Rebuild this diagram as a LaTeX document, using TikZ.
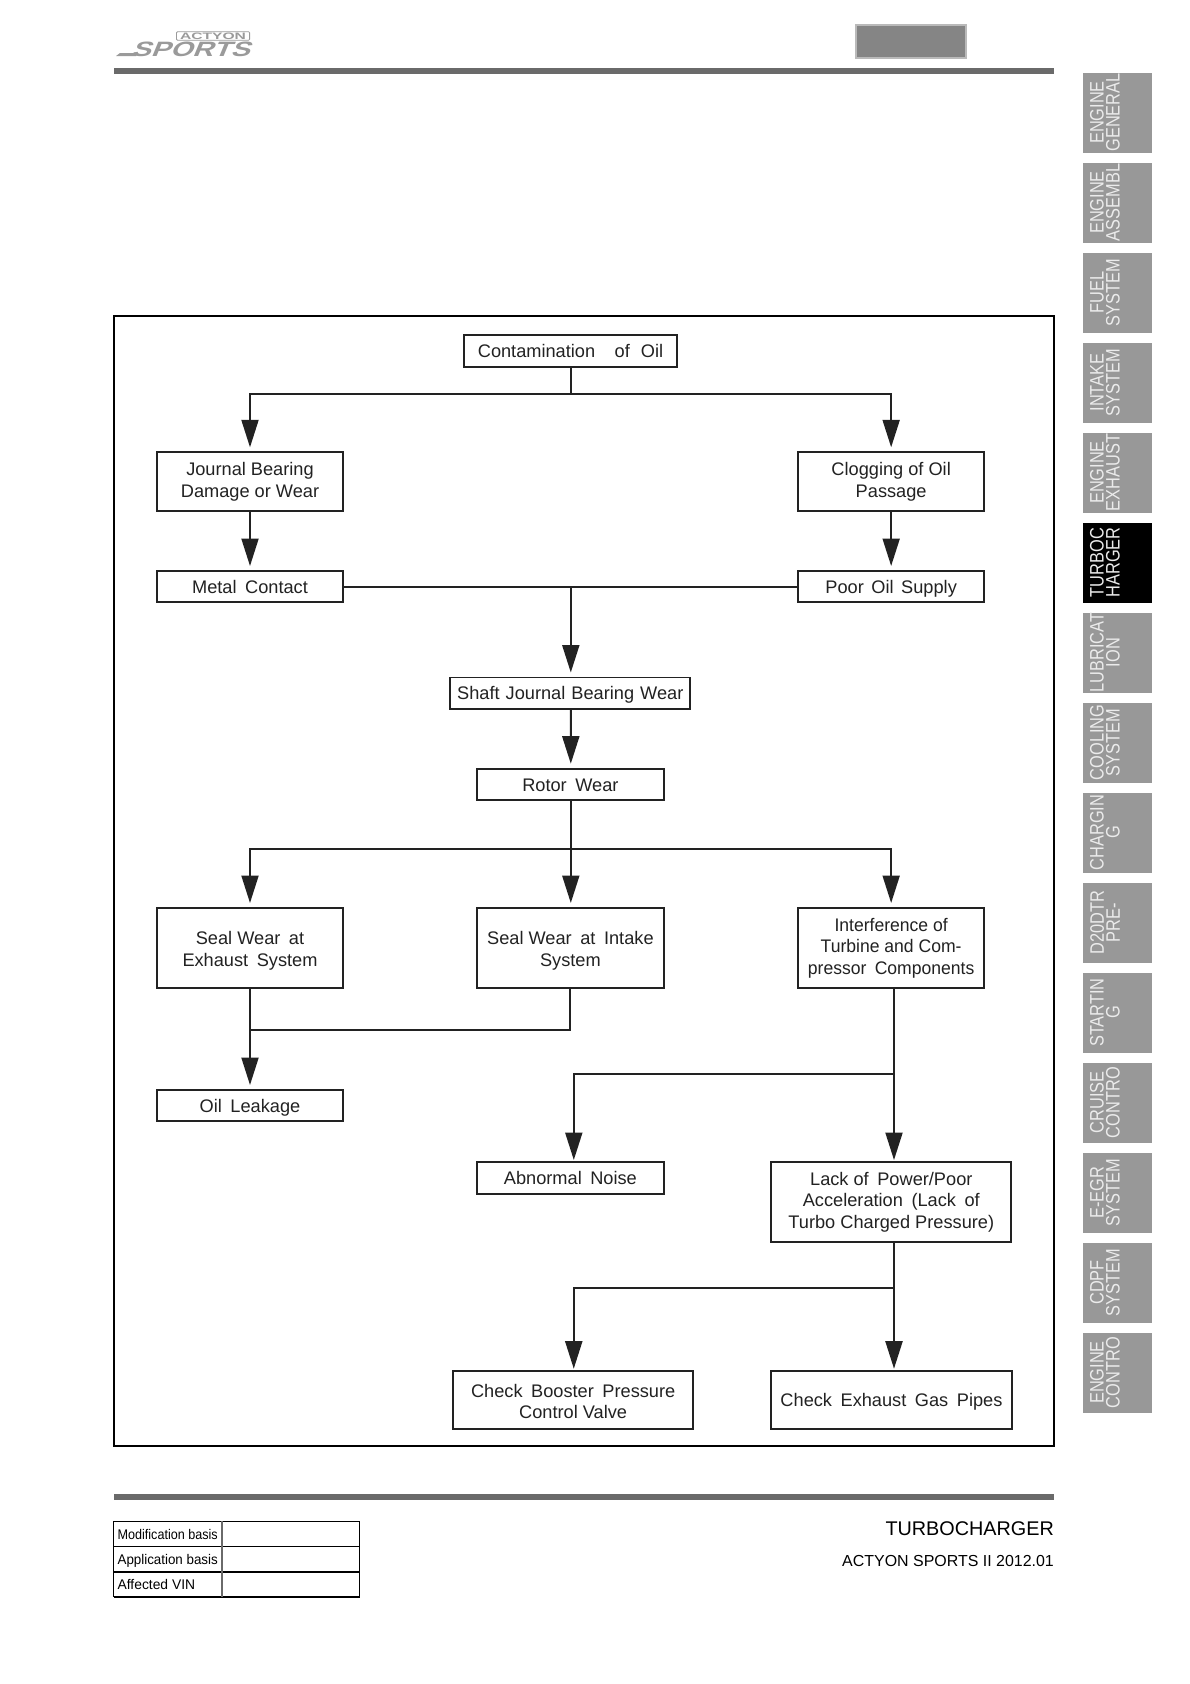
\documentclass[tikz,border=0pt]{standalone}
\usepackage{fontspec}
\setmainfont{Liberation Sans}
\newfontfamily\tabf[FakeStretch=0.84]{Liberation Sans}
\newfontfamily\cellf[FakeStretch=0.9]{Liberation Sans}
\newfontfamily\logof[FakeSlant=0.3]{Liberation Sans Bold}
\usetikzlibrary{arrows.meta}
\definecolor{ink}{HTML}{222222}
\definecolor{tabgrey}{HTML}{989898}
\definecolor{rulegrey}{HTML}{6A6A6A}
\definecolor{logogrey}{HTML}{9A9A9A}
\tikzset{
  bx/.style={draw=ink,line width=1.9pt,inner sep=0pt,outer sep=0pt,align=center,text=ink,
    font=\fontsize{18.2}{21.5}\selectfont},
  conn/.style={draw=ink,line width=2pt},
  arr/.style={draw=ink,line width=2pt,-{Triangle[width=17pt,length=27.5pt]},shorten >=5pt},
  arrb/.style={arr,shorten >=2pt},
  tabt/.style={rotate=90,inner sep=0pt,align=center,text=white!92!black,
    font=\tabf\fontsize{19.5}{16}\selectfont},
  celltext/.style={anchor=west,inner sep=0pt,text=black,font=\cellf\fontsize{14}{16}\selectfont},
}
\newcommand{\bxn}[6]{\node[bx,minimum width={#4-#2},minimum height={#5-#3}] (#1) at ({(#2+#4)/2},{(#3+#5)/2}) {#6};}
\newcommand{\one}[1]{\raisebox{0pt}[.716em][0pt]{#1}}
\newcommand{\sidetab}[4]{%
  \fill[#3] (1083,{73+90*#1}) rectangle (1152,{153+90*#1});
  \node[tabt] (tab#1) at (1105,{112.5+90*#1}) {#2\\#4};}
\newcommand{\gp}{\hspace{3.5pt}}
\newcommand{\tight}[1]{\scalebox{.965}[1]{#1}}
\begin{document}
\begin{tikzpicture}[x=1pt,y=-1pt]
\useasboundingbox (0,0) rectangle (1190,1684);
\fill[white] (0,0) rectangle (1190,1684);
% header
\fill[rulegrey] (114,68) rectangle (1054,74);
\draw[draw=black!27,fill=black!48,line width=2pt] (856.3,25) rectangle (965.7,58.3);
\draw[logogrey,line width=.8pt,rounded corners=1pt] (176.5,31.7) rectangle (249.6,40.3);
\node[inner sep=0pt,text=logogrey] (logoa) at (213,36) {\resizebox{66pt}{6.5pt}{\bfseries ACTYON}};
\node[inner sep=0pt,text=logogrey] (logob) at (190.5,49.5) {\resizebox{118pt}{14.5pt}{\logof SPORTS}};
\fill[logogrey] (116,56) -- (120,53) -- (138,53) -- (136,56) -- cycle;
% main frame
\draw[black,line width=2.2pt] (114,315.7) rectangle (1054,1446);
% boxes
\bxn{contam}{463.7}{334.7}{677.3}{366.7}{\one{Contamination\hspace{19.5pt}of\hspace{11pt}Oil}}
\bxn{journal}{156.7}{452.3}{343.3}{511}{Journal Bearing\\Damage or Wear}
\bxn{clog}{798}{452.3}{984.3}{511}{Clogging of Oil\\Passage}
\bxn{metal}{156.7}{571}{343.3}{602}{\one{Metal\gp\ Contact}}
\bxn{poor}{798}{571}{984.3}{602}{\one{Poor\hspace{2.5pt}\ Oil\hspace{2.5pt}\ Supply}}
\bxn{shaft}{450.3}{677.5}{690.3}{709.3}{\one{Shaft\hspace{1pt} Journal\hspace{1pt} Bearing\hspace{1pt} Wear}}
\bxn{rotor}{477}{768.7}{663.8}{800.3}{\one{Rotor\gp\ Wear}}
\bxn{sealx}{156.7}{908}{343.3}{987.7}{\rule{0pt}{19pt}Seal Wear\gp\ at\\Exhaust\gp\ System}
\bxn{seali}{477}{908}{663.8}{987.7}{\rule{0pt}{19pt}Seal Wear\gp\ at\gp\ Intake\\System}
\bxn{interf}{798}{908}{984.3}{987.7}{\tight{Interference of}\\\tight{Turbine and Com-}\\\tight{pressor\gp\ Components}}
\bxn{leak}{156.7}{1090}{343.3}{1121.3}{\one{Oil\gp\ Leakage}}
\bxn{noise}{477}{1162}{663.8}{1193.7}{\one{Abnormal\gp\ Noise}}
\bxn{lack}{771.3}{1162}{1011.3}{1241.7}{Lack of\gp\ Power/Poor\\Acceleration\gp\ (Lack\gp\ of\\Turbo Charged Pressure)}
\bxn{check}{453.3}{1370.7}{693}{1429}{\rule{0pt}{16pt}Check\gp\ Booster\gp\ Pressure\\Control Valve}
\bxn{exh}{771.3}{1370.7}{1011.6}{1429}{\one{Check\gp\ Exhaust\gp\ Gas\gp\ Pipes}}
% junctions
\coordinate (j1) at (571,393.7);
\coordinate (j2) at (570.8,586.7);
\coordinate (j3) at (570.8,849);
\coordinate (j4) at (250,1030);
\coordinate (j5) at (894,1074);
\coordinate (j6) at (894,1288);
% connectors
\draw[conn] ([xshift=.5pt]contam.south) -- (j1);
\draw[arr] (j1) -| (journal.north);
\draw[arr] (j1) -| (clog.north);
\draw[arr] (journal.south) -- (metal.north);
\draw[arr] (clog.south) -- (poor.north);
\draw[conn] (metal.east) -- (poor.west);
\draw[arr] (j2) -- ([xshift=.5pt]shaft.north);
\draw[arr] ([xshift=.5pt]shaft.south) -- ([xshift=.4pt]rotor.north);
\draw[arr] ([xshift=.4pt]rotor.south) -- ([xshift=.4pt]seali.north);
\draw[arr] (j3) -| (sealx.north);
\draw[arr] (j3) -| (interf.north);
\draw[arr] (sealx.south) -- (leak.north);
\draw[conn] (seali.south) |- (j4);
\draw[arrb] ([xshift=2.85pt]interf.south) -- ([xshift=2.7pt]lack.north);
\draw[arrb] (j5) -| ([xshift=3.4pt]noise.north);
\draw[arrb] ([xshift=2.7pt]lack.south) -- ([xshift=2.55pt]exh.north);
\draw[arrb] (j6) -| ([xshift=.6pt]check.north);
% side tabs
\sidetab{0}{ENGINE}{tabgrey}{GENERAL}
\sidetab{1}{ENGINE}{tabgrey}{ASSEMBL}
\sidetab{2}{FUEL}{tabgrey}{SYSTEM}
\sidetab{3}{INTAKE}{tabgrey}{SYSTEM}
\sidetab{4}{ENGINE}{tabgrey}{EXHAUST}
\sidetab{5}{TURBOC}{black}{HARGER}
\sidetab{6}{LUBRICAT}{tabgrey}{ION}
\sidetab{7}{COOLING}{tabgrey}{SYSTEM}
\sidetab{8}{CHARGIN}{tabgrey}{G}
\sidetab{9}{D20DTR}{tabgrey}{PRE-}
\sidetab{10}{STARTIN}{tabgrey}{G}
\sidetab{11}{CRUISE}{tabgrey}{CONTRO}
\sidetab{12}{E-EGR}{tabgrey}{SYSTEM}
\sidetab{13}{CDPF}{tabgrey}{SYSTEM}
\sidetab{14}{ENGINE}{tabgrey}{CONTRO}
% footer
\fill[rulegrey] (114,1494) rectangle (1054,1500);
\draw[black,line width=1.1pt] (113.6,1521.3) -- (359.8,1521.3) (113.6,1546.7) -- (359.8,1546.7) (113.6,1521.3) -- (113.6,1596.7) (359.8,1521.3) -- (359.8,1596.7);
\draw[black,line width=1.9pt] (113.6,1571.7) -- (359.8,1571.7) (113.6,1596.7) -- (359.8,1596.7);
\draw[rulegrey,line width=2.4pt] (222,1521.3) -- (222,1596.7);
\node[celltext] (c1) at (117.4,1534) {Modification basis};
\node[celltext] (c2) at (117.4,1560.5) {\scalebox{1.06}[1]{Application basis}};
\node[celltext] (c3) at (117.4,1584.5) {\scalebox{1.1}[1]{Affected VIN}};
\node[anchor=base east,inner sep=0pt,font=\fontsize{19.8}{22}\selectfont] (ft1) at (1054,1535) {TURBOCHARGER};
\node[anchor=base east,inner sep=0pt,font=\fontsize{15.95}{18}\selectfont] (ft2) at (1054,1566) {ACTYON SPORTS II 2012.01};
\end{tikzpicture}
\end{document}
